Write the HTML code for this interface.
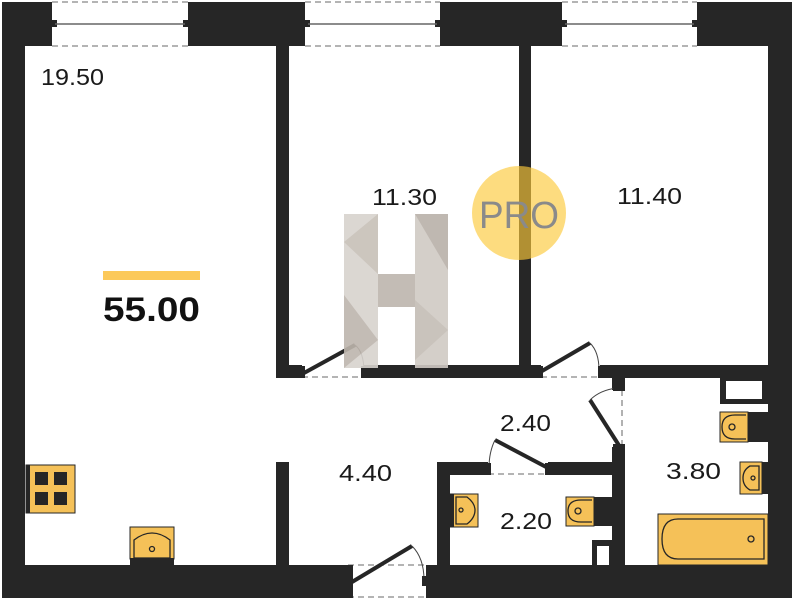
<!DOCTYPE html>
<html><head><meta charset="utf-8"><style>
html,body{margin:0;padding:0;background:#fff;}
svg{display:block}
text{font-family:"Liberation Sans",sans-serif;}
</style></head><body>
<svg width="794" height="600" viewBox="0 0 794 600" xmlns="http://www.w3.org/2000/svg">
<g fill="#262626">
<rect x="2" y="2" width="50" height="44"/>
<rect x="188" y="2" width="117" height="44"/>
<rect x="440" y="2" width="122" height="44"/>
<rect x="697" y="2" width="95" height="44"/>
<rect x="2" y="2" width="23" height="596"/>
<rect x="768" y="2" width="24" height="596"/>
<rect x="2" y="565" width="346" height="33"/>
<rect x="426" y="565" width="366" height="33"/>
<rect x="276" y="46" width="13" height="332"/>
<rect x="276" y="462" width="13" height="103"/>
<rect x="519" y="46" width="12" height="325"/>
<rect x="276" y="365" width="26" height="13"/>
<rect x="364" y="365" width="177" height="13"/>
<rect x="600" y="365" width="168" height="13"/>
<rect x="612" y="365" width="13" height="25"/>
<rect x="612" y="447" width="13" height="118"/>
<rect x="437" y="462" width="13" height="103"/>
<rect x="437" y="462" width="51" height="13"/>
<rect x="548" y="462" width="64" height="13"/>
<rect x="720" y="378" width="48" height="26"/>
<rect x="592" y="540" width="20" height="25"/>
<rect x="52" y="20" width="5" height="7"/><rect x="183" y="20" width="5" height="7"/>
<rect x="305" y="20" width="5" height="7"/><rect x="435" y="20" width="5" height="7"/>
<rect x="562" y="20" width="5" height="7"/><rect x="692" y="20" width="5" height="7"/>
</g>
<g fill="#fff">
<rect x="726" y="381" width="36" height="18"/>
<rect x="597" y="546" width="12" height="19"/>
</g>
<g stroke="#666" stroke-width="1.5">
<line x1="55" y1="24" x2="185" y2="24"/><line x1="308" y1="24" x2="437" y2="24"/><line x1="565" y1="24" x2="694" y2="24"/>
</g>
<g stroke="#888" stroke-width="1.3" stroke-dasharray="6,4" fill="none">
<line x1="52" y1="2" x2="188" y2="2"/><line x1="52" y1="46" x2="188" y2="46"/>
<line x1="305" y1="2" x2="440" y2="2"/><line x1="305" y1="46" x2="440" y2="46"/>
<line x1="562" y1="2" x2="697" y2="2"/><line x1="562" y1="46" x2="697" y2="46"/>
<line x1="302" y1="377" x2="364" y2="377"/>
<line x1="541" y1="377" x2="600" y2="377"/>
<line x1="622" y1="390" x2="622" y2="447"/>
<line x1="488" y1="474" x2="548" y2="474"/>
<line x1="348" y1="597" x2="426" y2="597"/>
<line x1="348" y1="565" x2="426" y2="565"/>
</g>
<g stroke="#262626" stroke-width="4">
<line x1="304" y1="373" x2="355" y2="345"/>
<line x1="542" y1="371" x2="590" y2="343"/>
<line x1="620" y1="447" x2="590" y2="400"/>
<line x1="548" y1="468" x2="495" y2="440"/>
<line x1="352" y1="582" x2="412" y2="546"/>
</g>
<g stroke="#444" stroke-width="1" fill="none">
<path d="M355 345 Q364 352 364 372"/>
<path d="M590 343 Q599 352 599 370"/>
<path d="M590 400 Q600 390 617 388"/>
<path d="M495 440 Q489 452 489 468"/>
<path d="M412 546 Q424 558 424 580"/>
</g>
<g fill="#262626">
<rect x="300" y="366" width="5" height="12"/><rect x="361" y="366" width="5" height="12"/>
<rect x="538" y="366" width="5" height="12"/><rect x="598" y="366" width="5" height="12"/>
<rect x="613" y="386" width="12" height="5"/><rect x="613" y="444" width="12" height="5"/>
<rect x="486" y="463" width="5" height="12"/><rect x="545" y="463" width="5" height="12"/>
<rect x="348" y="565" width="5" height="33"/><rect x="422" y="576" width="5" height="10"/>
</g>
<g opacity="0.9">
<rect x="344" y="214" width="34" height="154" fill="#d8d3ce"/>
<rect x="415" y="214" width="33" height="154" fill="#d0cac4"/>
<rect x="378" y="274" width="37" height="33" fill="#bdb5ad"/>
<polygon points="344,242 378,214 378,274" fill="#c7c0b8"/>
<polygon points="415,214 448,214 448,270" fill="#b9b1a9"/>
<polygon points="344,295 378,340 344,368" fill="#bdb5ad"/>
<polygon points="415,300 448,330 415,360" fill="#c4bdb5"/>
</g>
<circle cx="519" cy="213" r="47" fill="#fcc93a" opacity="0.65"/>
<text x="519" y="228" font-size="38" fill="#8a8a8a" text-anchor="middle" textLength="80" lengthAdjust="spacingAndGlyphs">PRO</text>
<g fill="#f5c158" stroke="#262626" stroke-width="1">
<rect x="26" y="465" width="49" height="48"/>
<rect x="130" y="527" width="44" height="32"/>
<rect x="720" y="412" width="28" height="30"/>
<rect x="740" y="462" width="22" height="32"/>
<rect x="566" y="497" width="28" height="29"/>
<rect x="450" y="494" width="28" height="33"/>
<rect x="658" y="514" width="110" height="51"/>
</g>
<g fill="#262626">
<rect x="35" y="472" width="13" height="13"/><rect x="54" y="472" width="13" height="13"/>
<rect x="35" y="492" width="13" height="13"/><rect x="54" y="492" width="13" height="13"/>
<rect x="130" y="558" width="44" height="7"/>
<rect x="748" y="412" width="20" height="30"/>
<rect x="762" y="462" width="6" height="32"/>
<rect x="594" y="497" width="18" height="29"/>
<rect x="450" y="494" width="4" height="33"/>
<rect x="26" y="465" width="4" height="48"/>
</g>
<g fill="none" stroke="#262626" stroke-width="1.3">
<path d="M134 558 V540 Q152 526 170 540 V558 Z"/><circle cx="152" cy="549" r="2.5"/>
<path d="M746 415 H735 Q722 415 722 427 Q722 439 735 439 H746"/><circle cx="732" cy="427" r="3"/>
<path d="M759 466 H750 Q743 470 743 478 Q743 486 750 490 H759 Z"/><circle cx="753" cy="478" r="2"/>
<path d="M592 500 H581 Q568 500 568 511 Q568 522 581 522 H592"/><circle cx="578" cy="511" r="3"/>
<path d="M456 497 H467 Q475 503 475 510 Q475 518 467 524 H456 Z"/><circle cx="461" cy="510" r="2"/>
<path d="M764 519 H678 Q662 519 662 539 Q662 559 678 559 H764 Z"/><circle cx="751" cy="539" r="3"/>
</g>
<g font-size="23" fill="#1a1a1a">
<text x="41" y="85" textLength="63" lengthAdjust="spacingAndGlyphs">19.50</text>
<text x="372" y="205" textLength="65" lengthAdjust="spacingAndGlyphs">11.30</text>
<text x="617" y="204" textLength="65" lengthAdjust="spacingAndGlyphs">11.40</text>
<text x="500" y="431" textLength="51" lengthAdjust="spacingAndGlyphs">2.40</text>
<text x="339" y="481" textLength="53" lengthAdjust="spacingAndGlyphs">4.40</text>
<text x="666" y="479" textLength="55" lengthAdjust="spacingAndGlyphs">3.80</text>
<text x="500" y="529" textLength="52" lengthAdjust="spacingAndGlyphs">2.20</text>
</g>
<rect x="103" y="271" width="97" height="9" fill="#fcc95a"/>
<text x="103" y="321" font-size="34" font-weight="bold" fill="#111" textLength="97" lengthAdjust="spacingAndGlyphs">55.00</text>
</svg>
</body></html>
